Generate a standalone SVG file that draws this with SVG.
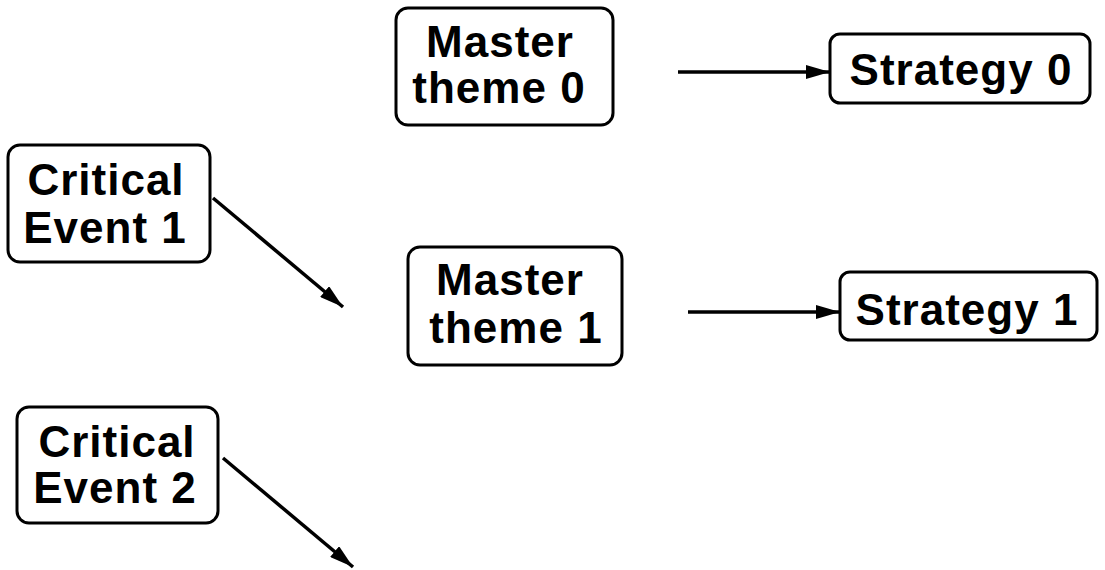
<svg xmlns="http://www.w3.org/2000/svg" width="1105" height="570" viewBox="0 0 1105 570">
<style>
.box{fill:#fff;stroke:#000;stroke-width:3}
.t{font-family:"Liberation Sans",Arial,sans-serif;font-weight:bold;font-size:44px;letter-spacing:1px;fill:#000;text-anchor:middle}
.c{stroke:#000;stroke-width:3.5;fill:none}
</style>
<defs>
<marker id="ah" viewBox="0 0 24 14" refX="24" refY="7" markerWidth="24" markerHeight="14" markerUnits="userSpaceOnUse" orient="auto">
<path d="M0,0 L24,7 L0,14 Z" fill="#000"/>
</marker>
</defs>
<rect width="1105" height="570" fill="#fff"/>
<g id="master0">
<rect class="box" x="396" y="8" width="217" height="117" rx="12"/>
<text class="t" x="500" y="57">Master</text>
<text class="t" x="499" y="103">theme 0</text>
</g>
<g id="strategy0">
<rect class="box" x="830" y="34" width="260" height="69" rx="10"/>
<text class="t" x="961" y="85">Strategy 0</text>
</g>
<g id="critical1">
<rect class="box" x="8" y="145" width="202" height="117" rx="12"/>
<text class="t" x="106" y="195">Critical</text>
<text class="t" x="105" y="243">Event 1</text>
</g>
<g id="master1">
<rect class="box" x="408" y="247" width="214" height="118" rx="12"/>
<text class="t" x="510" y="295">Master</text>
<text class="t" x="516" y="343">theme 1</text>
</g>
<g id="strategy1">
<rect class="box" x="840" y="272" width="257" height="68" rx="10"/>
<text class="t" x="967" y="325">Strategy 1</text>
</g>
<g id="critical2">
<rect class="box" x="17" y="407" width="201" height="116" rx="12"/>
<text class="t" x="117" y="457">Critical</text>
<text class="t" x="115" y="503">Event 2</text>
</g>
<g id="connectors">
<line class="c" x1="678" y1="72" x2="830" y2="72" marker-end="url(#ah)"/>
<line class="c" x1="688" y1="312" x2="840" y2="312" marker-end="url(#ah)"/>
<line class="c" x1="213" y1="198" x2="343" y2="307" marker-end="url(#ah)"/>
<line class="c" x1="223" y1="458" x2="353" y2="567" marker-end="url(#ah)"/>
</g>
</svg>
